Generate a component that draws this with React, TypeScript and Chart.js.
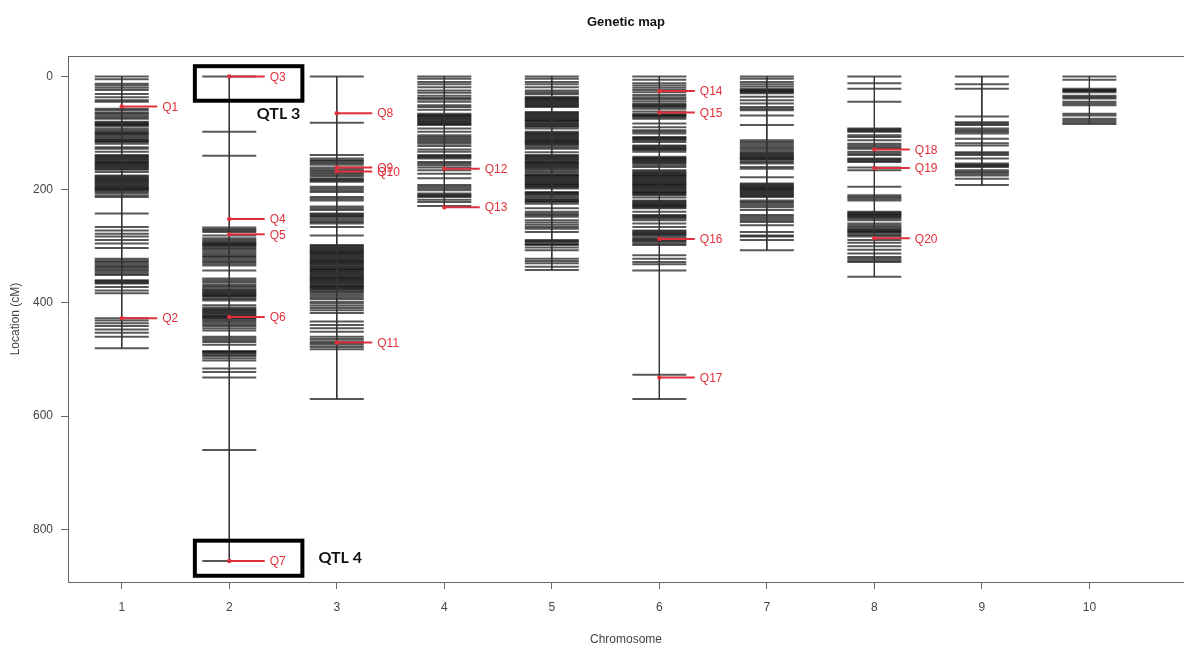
import React, { useEffect, useRef } from "react";
import { Chart, registerables } from "chart.js";

Chart.register(...registerables);

// ---------- data ----------
const chromosomes = [1, 2, 3, 4, 5, 6, 7, 8, 9, 10];
const yTickValues = [0, 200, 400, 600, 800];

const chr1Markers = [0, 5, 13, 16, 20, 24, 31, 37, 42, 45, 57, 60, 64, 66, 69, 72, 75, 80, 82, 84, 86, 88, 92, 95, 98, 100, 102, 104, 107, 110, 112, 114, 116, 119, 125, 128, 133, 139, 141, 143, 145, 147, 149, 151, 153, 155, 157, 159, 161, 163, 165, 169, 175, 177, 179, 181, 183, 185, 187, 189, 191, 193, 195, 197, 199, 201, 203, 206, 210, 213, 242, 266, 272, 278, 283, 289, 295, 303, 322, 325, 328, 331, 334, 336, 339, 342, 345, 348, 351, 360, 362, 364, 366, 372, 378, 383, 427, 431, 436, 441, 447, 453, 460, 480];
const chr2Markers = [0, 98, 140, 267, 270, 272, 275, 281, 286, 289, 292, 294, 296, 298, 300, 302, 305, 308, 311, 314, 317, 319, 322, 325, 328, 331, 334, 343, 357, 360, 363, 367, 370, 373, 376, 378, 380, 382, 384, 386, 388, 390, 393, 396, 404, 408, 411, 413, 415, 417, 419, 421, 423, 425, 427, 429, 432, 435, 438, 441, 445, 449, 460, 463, 466, 469, 474, 485, 487, 489, 491, 494, 498, 502, 516, 522, 532, 660, 856];
const chr3Markers = [0, 82, 139, 145, 148, 150, 153, 156, 161, 164, 167, 170, 173, 176, 180, 182, 184, 186, 195, 198, 201, 204, 213, 216, 219, 230, 233, 236, 242, 244, 246, 248, 251, 254, 257, 260, 266, 281, 298, 300, 302, 304, 306, 308, 310, 312, 314, 316, 318, 320, 322, 324, 326, 328, 330, 332, 334, 336, 338, 340, 342, 344, 346, 348, 350, 352, 354, 356, 358, 360, 362, 364, 366, 368, 370, 372, 374, 376, 378, 381, 384, 387, 390, 393, 398, 401, 405, 409, 413, 418, 433, 439, 445, 451, 460, 464, 468, 471, 474, 478, 482, 570];
const chr4Markers = [0, 4, 10, 14, 19, 25, 29, 34, 38, 41, 45, 51, 54, 59, 66, 68, 70, 72, 74, 76, 78, 80, 82, 84, 86, 92, 98, 104, 107, 110, 113, 116, 119, 123, 129, 133, 139, 141, 143, 145, 151, 154, 157, 161, 166, 172, 180, 192, 195, 198, 201, 207, 209, 211, 213, 218, 222, 229];
const chr5Markers = [0, 4, 10, 14, 19, 25, 28, 31, 36, 38, 40, 42, 44, 46, 48, 50, 52, 54, 63, 65, 67, 69, 71, 73, 75, 77, 79, 81, 83, 85, 87, 89, 92, 98, 100, 102, 104, 106, 108, 110, 112, 114, 116, 118, 120, 122, 125, 128, 134, 139, 141, 143, 145, 147, 149, 151, 153, 155, 157, 159, 161, 163, 166, 169, 172, 174, 176, 178, 180, 182, 184, 186, 188, 190, 192, 194, 196, 198, 204, 206, 208, 210, 213, 216, 218, 220, 222, 225, 233, 239, 242, 245, 248, 254, 258, 262, 266, 269, 275, 289, 291, 293, 296, 298, 302, 307, 322, 326, 330, 336, 342];
const chr6Markers = [0, 6, 12, 16, 20, 24, 28, 33, 37, 40, 44, 48, 50, 52, 54, 57, 62, 66, 68, 70, 72, 75, 83, 90, 95, 98, 101, 107, 109, 111, 113, 116, 122, 124, 126, 128, 130, 133, 142, 144, 146, 148, 150, 152, 154, 157, 160, 166, 168, 170, 172, 174, 176, 178, 180, 182, 184, 186, 188, 190, 192, 194, 196, 198, 200, 202, 204, 206, 208, 210, 214, 219, 221, 223, 225, 227, 229, 231, 233, 239, 245, 247, 249, 251, 254, 260, 266, 272, 274, 276, 278, 280, 283, 286, 288, 290, 292, 295, 298, 316, 322, 328, 332, 343, 527, 570];
const chr7Markers = [0, 4, 10, 14, 18, 22, 24, 26, 28, 30, 36, 42, 48, 54, 57, 60, 69, 86, 113, 116, 119, 122, 125, 128, 131, 134, 136, 138, 140, 142, 144, 146, 148, 151, 154, 160, 163, 178, 189, 191, 193, 195, 197, 199, 201, 203, 205, 207, 209, 211, 213, 219, 222, 225, 228, 231, 236, 245, 248, 251, 254, 257, 263, 275, 281, 283, 289, 307];
const chr8Markers = [0, 12, 22, 45, 92, 94, 96, 98, 104, 107, 113, 119, 122, 125, 128, 133, 136, 139, 145, 147, 149, 151, 161, 166, 195, 210, 213, 216, 219, 239, 241, 243, 245, 247, 249, 251, 254, 260, 263, 266, 269, 271, 273, 275, 277, 280, 283, 289, 294, 300, 306, 313, 319, 322, 325, 328, 354];
const chr9Markers = [0, 14, 22, 71, 81, 83, 86, 92, 95, 98, 101, 110, 118, 122, 134, 136, 139, 145, 154, 156, 158, 160, 166, 169, 172, 175, 181, 192];
const chr10Markers = [0, 6, 22, 24, 26, 28, 34, 37, 39, 45, 48, 51, 66, 69, 75, 78, 81, 84];

const markerSets = [chr1Markers, chr2Markers, chr3Markers, chr4Markers, chr5Markers, chr6Markers, chr7Markers, chr8Markers, chr9Markers, chr10Markers];

const qtlNames = ["Q1", "Q2", "Q3", "Q4", "Q5", "Q6", "Q7", "Q8", "Q9", "Q10", "Q11", "Q12", "Q13", "Q14", "Q15", "Q16", "Q17", "Q18", "Q19", "Q20"];
const qtlChromosome = [1, 1, 2, 2, 2, 2, 2, 3, 3, 3, 3, 4, 4, 6, 6, 6, 6, 8, 8, 8];
const qtlPosition = [53, 427, 0, 252, 279, 425, 856, 65, 161, 168, 470, 163, 231, 26, 64, 287, 532, 129, 162, 286];

const highlightLabels = ["QTL 3", "QTL 4"];
const highlightChromosome = [2, 2];
const highlightTop = [-18, 820];
const highlightBottom = [43, 882];

// ---------- styles ----------
const RED = "#e0303c";
const AXIS = "#666";
const FONT = '"Liberation Sans", Arial, sans-serif';

const overlayPlugin = {
  id: "overlay",
  afterDatasetsDraw(chart: any) {
    const { ctx, chartArea, scales } = chart;
    const x = scales.x;
    const y = scales.y;
    ctx.save();
    // top frame line
    ctx.strokeStyle = AXIS;
    ctx.lineWidth = 1;
    ctx.beginPath();
    ctx.moveTo(chartArea.left, Math.round(chartArea.top) + 0.5);
    ctx.lineTo(chartArea.right, Math.round(chartArea.top) + 0.5);
    ctx.stroke();

    // QTL labels
    ctx.fillStyle = RED;
    ctx.font = `12px ${FONT}`;
    ctx.textBaseline = "middle";
    ctx.textAlign = "left";
    chart.data.datasets.forEach((ds: any, i: number) => {
      if (!ds.qtlLabel) return;
      const meta = chart.getDatasetMeta(i);
      const pt = meta.data[1];
      if (!pt) return;
      ctx.fillText(ds.qtlLabel, pt.x + 5, pt.y + 1);
    });

    // highlight boxes
    highlightLabels.forEach((label, i) => {
      const c = highlightChromosome[i];
      const x0 = x.getPixelForValue(c - 0.32);
      const x1 = x.getPixelForValue(c + 0.68);
      const y0 = y.getPixelForValue(highlightTop[i]);
      const y1 = y.getPixelForValue(highlightBottom[i]);
      ctx.strokeStyle = "#000";
      ctx.lineWidth = 4;
      ctx.strokeRect(x0, y0, x1 - x0, y1 - y0);
      ctx.fillStyle = "#111";
      ctx.font = `bold 16px Lato, "Open Sans", sans-serif`;
      ctx.textBaseline = "middle";
      if (i === 0) {
        ctx.textAlign = "right";
        ctx.fillText(label, x1 - 2, y1 + 13);
      } else {
        ctx.textAlign = "left";
        ctx.fillText(label, x1 + 16, (y0 + y1) / 2);
      }
    });

    // title
    ctx.fillStyle = "#111";
    ctx.font = `bold 13px ${FONT}`;
    ctx.textAlign = "center";
    ctx.textBaseline = "middle";
    ctx.fillText("Genetic map", (chartArea.left + chartArea.right) / 2, 22);
    ctx.restore();
  },
};

export default function App() {
  const canvasRef = useRef<HTMLCanvasElement | null>(null);

  useEffect(() => {
    if (!canvasRef.current) return;

    const markerDatasets = markerSets.map((arr, i) => ({
      data: arr.map((v) => ({ x: chromosomes[i], y: v })),
      showLine: false,
      pointStyle: "line",
      pointRadius: 27,
      pointHoverRadius: 27,
      pointBorderWidth: 2,
      pointBorderColor: "rgba(0,0,0,0.66)",
      pointBackgroundColor: "rgba(0,0,0,0)",
      order: 3,
    }));

    const axisDatasets = markerSets.map((arr, i) => ({
      data: [
        { x: chromosomes[i], y: Math.min(...arr) },
        { x: chromosomes[i], y: Math.max(...arr) },
      ],
      showLine: true,
      borderColor: "#333",
      borderWidth: 1,
      pointRadius: 0,
      order: 2,
    }));

    const qtlDatasets = qtlNames.map((name, i) => ({
      data: [
        { x: qtlChromosome[i], y: qtlPosition[i] },
        { x: qtlChromosome[i] + 0.33, y: qtlPosition[i] },
      ],
      showLine: true,
      borderColor: RED,
      borderWidth: 2,
      pointRadius: [2.2, 0],
      pointBackgroundColor: RED,
      pointBorderWidth: 0,
      order: 1,
      qtlLabel: name,
    }));

    const chart = new Chart(canvasRef.current, {
      type: "scatter",
      data: { datasets: [...qtlDatasets, ...axisDatasets, ...markerDatasets] as any },
      options: {
        animation: false,
        responsive: false,
        events: [],
        layout: { autoPadding: false, padding: { top: 56, left: 0, right: 0, bottom: 0 } },
        plugins: { legend: { display: false }, tooltip: { enabled: false }, title: { display: false } },
        scales: {
          x: {
            type: "linear",
            min: 0.5,
            max: 10.88,
            afterBuildTicks: (scale: any) => {
              scale.ticks = chromosomes.map((v) => ({ value: v }));
            },
            afterFit: (scale: any) => {
              scale.height = 65;
              scale.paddingLeft = 0;
              scale.paddingRight = 0;
            },
            grid: { drawOnChartArea: false, drawTicks: true, tickLength: 7, color: AXIS },
            border: { display: true, color: AXIS, width: 1 },
            ticks: { color: "#444", font: { size: 12, family: FONT }, padding: 11, autoSkip: false, maxRotation: 0 },
            title: { display: true, text: "Chromosome", color: "#444", font: { size: 12, family: FONT }, padding: { top: 0, bottom: 0 } },
          },
          y: {
            type: "linear",
            reverse: true,
            min: -36,
            max: 893,
            afterBuildTicks: (scale: any) => {
              scale.ticks = yTickValues.map((v) => ({ value: v }));
            },
            afterFit: (scale: any) => {
              scale.width = 68;
              scale.paddingTop = 0;
              scale.paddingBottom = 0;
            },
            grid: { drawOnChartArea: false, drawTicks: true, tickLength: 7, color: AXIS },
            border: { display: true, color: AXIS, width: 1 },
            ticks: { color: "#444", font: { size: 12, family: FONT }, padding: 8 },
            title: { display: true, text: "Location (cM)", color: "#444", font: { size: 12, family: FONT }, padding: { top: 8, bottom: 0 } },
          },
        },
      },
      plugins: [overlayPlugin],
    });

    return () => chart.destroy();
  }, []);

  return (
    <div style={{ position: "absolute", left: 0, top: 0, width: 1184, height: 647, background: "#fff" }}>
      <canvas ref={canvasRef} width={1184} height={647} />
    </div>
  );
}
